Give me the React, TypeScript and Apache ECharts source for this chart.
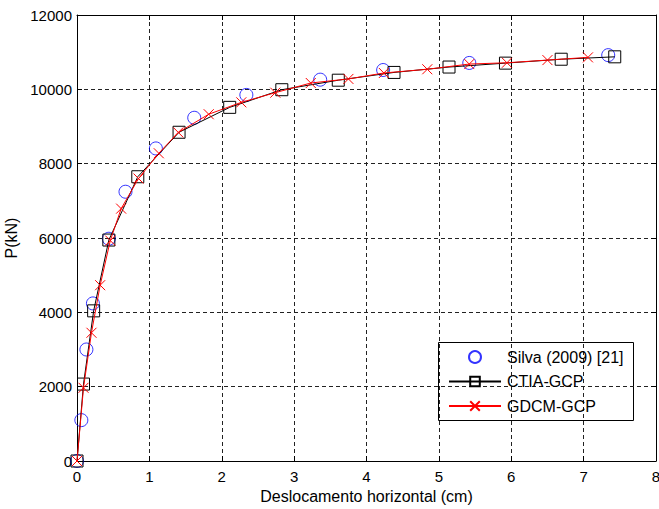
import React, { useEffect, useRef } from "react";
import * as echarts from "echarts";

const xTicks = [0, 1, 2, 3, 4, 5, 6, 7, 8];
const yTicks = [0, 2000, 4000, 6000, 8000, 10000, 12000];

const silvaX = [0, 0.06, 0.13, 0.22, 0.44, 0.67, 1.09, 1.62, 2.34, 3.36, 4.23, 5.42, 7.34];
const silvaY = [0, 1100, 3000, 4240, 5980, 7245, 8410, 9235, 9850, 10260, 10520, 10710, 10920];

const ctiaX = [0, 0.09, 0.23, 0.44, 0.84, 1.41, 2.11, 2.83, 3.61, 4.38, 5.14, 5.92, 6.69, 7.43];
const ctiaY = [0, 2070, 4040, 5945, 7648, 8845, 9515, 9990, 10246, 10455, 10600, 10705, 10810, 10875];

const gdcmX = [0, 0.09, 0.2, 0.32, 0.46, 0.61, 0.85, 1.13, 1.4, 1.82, 2.27, 2.74, 3.23, 3.75, 4.24, 4.84, 5.42, 5.94, 6.5, 7.06];
const gdcmY = [0, 1970, 3450, 4730, 5930, 6790, 7600, 8280, 8840, 9330, 9650, 9910, 10170, 10280, 10440, 10540, 10680, 10715, 10787, 10860];

const seriesNames = ["Silva (2009) [21]", "CTIA-GCP", "GDCM-GCP"];
const xName = "Deslocamento horizontal (cm)";
const yName = "P(kN)";

const FONT = "Arial, 'Liberation Sans', sans-serif";

const zip = (xs: number[], ys: number[]) => xs.map((x, i) => [x, ys[i]]);

export default function App() {
  const ref = useRef<HTMLDivElement>(null);
  useEffect(() => {
    if (!ref.current) return;
    const chart = echarts.init(ref.current, undefined, { renderer: "svg" });
    const axisLine = { show: true, onZero: false, lineStyle: { color: "#000", width: 1 } };
    const tick = { show: true, inside: true, length: 5, lineStyle: { color: "#000" } };
    const split = { show: true, lineStyle: { color: "#222", type: [4, 3], width: 1 } };
    chart.setOption({
      animation: false,
      backgroundColor: "#fff",
      grid: { left: 77, top: 15, width: 579, height: 446, containLabel: false, outerBoundsMode: "none" },
      xAxis: [
        {
          type: "value", min: 0, max: 8, interval: 1, position: "bottom",
          axisLine, axisTick: tick, splitLine: split,
          axisLabel: { color: "#000", fontSize: 15, fontFamily: FONT, margin: 8, formatter: (v: number) => (xTicks.includes(v) ? String(v) : "") },
          name: xName, nameLocation: "middle", nameGap: 26,
          nameTextStyle: { color: "#000", fontSize: 16, fontFamily: FONT },
        },
        {
          type: "value", min: 0, max: 8, interval: 1, position: "top",
          axisLine, axisTick: tick, splitLine: { show: false }, axisLabel: { show: false },
        },
      ],
      yAxis: [
        {
          type: "value", min: 0, max: 12000, interval: 2000, position: "left",
          axisLine, axisTick: tick, splitLine: split,
          axisLabel: { color: "#000", fontSize: 15, fontFamily: FONT, margin: 5, formatter: (v: number) => (yTicks.includes(v) ? String(v) : "") },
          name: yName, nameLocation: "middle", nameGap: 53,
          nameTextStyle: { color: "#000", fontSize: 16, fontFamily: FONT },
        },
        {
          type: "value", min: 0, max: 12000, interval: 2000, position: "right",
          axisLine, axisTick: tick, splitLine: { show: false }, axisLabel: { show: false },
        },
      ],
      legend: {
        orient: "vertical",
        left: 448, top: 348,
        padding: 0,
        itemWidth: 52, itemHeight: 12, itemGap: 6.5,
        textStyle: { color: "#000", fontSize: 16, fontFamily: FONT, padding: [0, 0, 0, 1], lineHeight: 18 },
        data: seriesNames,
      },
      graphic: [
        {
          type: "rect", left: 438, top: 342, z: 0,
          shape: { width: 195, height: 78 },
          style: { fill: "#fff", stroke: "#000", lineWidth: 1 },
        },
      ],
      series: [
        {
          name: seriesNames[0], type: "scatter", data: zip(silvaX, silvaY),
          symbol: "circle", symbolSize: 13, z: 3,
          itemStyle: { color: "none", borderColor: "#0000ff", borderWidth: 1 },
        },
        {
          name: seriesNames[1], type: "line", data: zip(ctiaX, ctiaY),
          symbol: "rect", symbolSize: 12, showAllSymbol: true, z: 4,
          lineStyle: { color: "#000", width: 1 },
          itemStyle: { color: "none", borderColor: "#000", borderWidth: 1 },
        },
        {
          name: seriesNames[2], type: "line", data: zip(gdcmX, gdcmY),
          symbol: "path://M0,0L10,10M10,0L0,10", symbolSize: 10, showAllSymbol: true, z: 5,
          lineStyle: { color: "#ff0000", width: 1 },
          itemStyle: { color: "#ff0000", borderColor: "#ff0000", borderWidth: 1 },
        },
      ],
    });
    return () => chart.dispose();
  }, []);
  return <div ref={ref} style={{ position: "fixed", left: 0, top: 0, width: 659, height: 509 }} />;
}
